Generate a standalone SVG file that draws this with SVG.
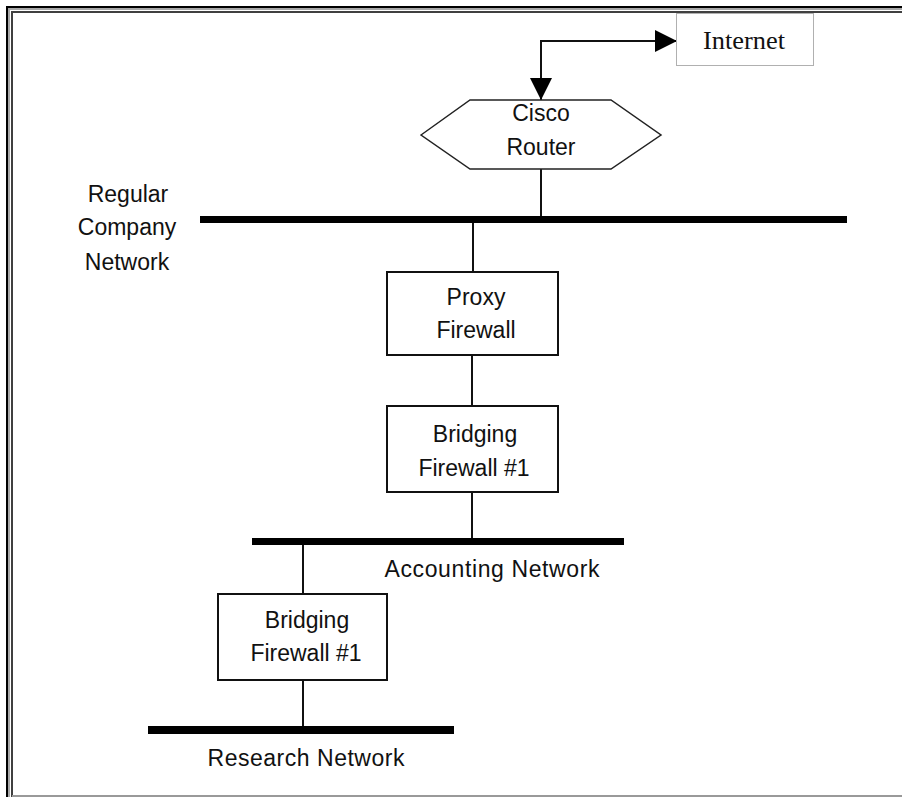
<svg xmlns="http://www.w3.org/2000/svg" width="902" height="797" viewBox="0 0 902 797">
<style>
.lbl{font-family:"Liberation Sans",Arial,sans-serif;font-size:23px;fill:#111;text-anchor:middle}
.serif{font-family:"Liberation Serif","Times New Roman",serif;font-size:26px;fill:#111;text-anchor:middle}
.box{fill:#fff;stroke:#111;stroke-width:2}
.wire{fill:none;stroke:#111;stroke-width:2}
.bus{fill:#000}
</style>
<defs>
<marker id="ah" viewBox="0 0 22 22" markerWidth="22" markerHeight="22" refX="22" refY="11" orient="auto-start-reverse" markerUnits="userSpaceOnUse">
<path d="M0,0 L22,11 L0,22 z" fill="#000"/>
</marker>
</defs>
<rect x="0" y="0" width="902" height="797" fill="#fff"/>
<g id="frame">
<rect x="6" y="6" width="896" height="2" fill="#000"/>
<rect x="6" y="6" width="2" height="791" fill="#000"/>
<rect x="8" y="8" width="894" height="2" fill="#a8a8a8"/>
<rect x="8" y="8" width="2" height="789" fill="#a8a8a8"/>
<rect x="11" y="11" width="891" height="2" fill="#404040"/>
<rect x="11" y="11" width="2" height="786" fill="#404040"/>
<rect x="12" y="795" width="890" height="2" fill="#999"/>
</g>
<g id="connectors">
<path class="wire" d="M541,100 V41 H677" marker-start="url(#ah)" marker-end="url(#ah)"/>
<line class="wire" x1="541" y1="169" x2="541" y2="217"/>
<line class="wire" x1="473" y1="220" x2="473" y2="272"/>
<line class="wire" x1="472" y1="355" x2="472" y2="406"/>
<line class="wire" x1="472" y1="492" x2="472" y2="540"/>
<line class="wire" x1="303" y1="542" x2="303" y2="594"/>
<line class="wire" x1="303" y1="680" x2="303" y2="728"/>
</g>
<g id="internet">
<rect x="676.5" y="13.5" width="137" height="52" fill="#fff" stroke="#b0b0b0" stroke-width="1"/>
<text class="serif" x="744" y="49" textLength="82" lengthAdjust="spacingAndGlyphs">Internet</text>
</g>
<g id="router">
<polygon points="421,135 470,100 611,100 661,135 611,169 470,169" fill="#fff" stroke="#222" stroke-width="1.5"/>
<text class="lbl" x="541" y="121">Cisco</text>
<text class="lbl" x="541" y="155">Router</text>
</g>
<g id="regular-network">
<rect class="bus" x="200" y="216" width="647" height="7"/>
<text class="lbl" x="128" y="202">Regular</text>
<text class="lbl" x="127" y="235">Company</text>
<text class="lbl" x="127" y="270">Network</text>
</g>
<g id="proxy">
<rect class="box" x="387" y="272" width="171" height="83"/>
<text class="lbl" x="476" y="305">Proxy</text>
<text class="lbl" x="476" y="338">Firewall</text>
</g>
<g id="bridging1">
<rect class="box" x="387" y="406" width="171" height="86"/>
<text class="lbl" x="475" y="442">Bridging</text>
<text class="lbl" x="474" y="476">Firewall #1</text>
</g>
<g id="accounting-network">
<rect class="bus" x="252" y="538" width="372" height="7"/>
<text class="lbl" x="492" y="577" textLength="215" lengthAdjust="spacing">Accounting Network</text>
</g>
<g id="bridging2">
<rect class="box" x="218" y="594" width="169" height="86"/>
<text class="lbl" x="307" y="628">Bridging</text>
<text class="lbl" x="306" y="661">Firewall #1</text>
</g>
<g id="research-network">
<rect class="bus" x="148" y="726" width="306" height="8"/>
<text class="lbl" x="306" y="766" textLength="197" lengthAdjust="spacing">Research Network</text>
</g>
</svg>
